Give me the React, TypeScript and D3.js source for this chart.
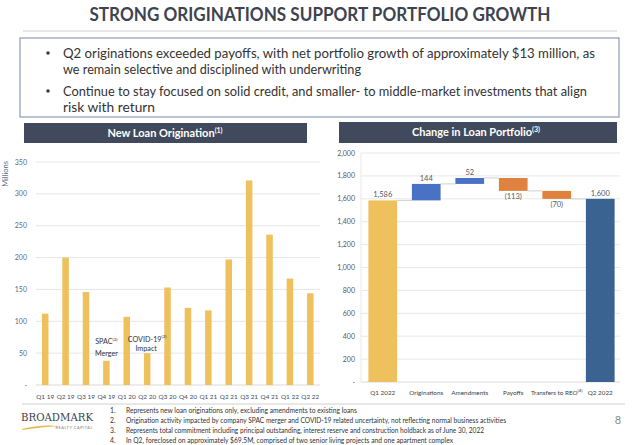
import React from "react";
import * as d3 from "d3";

const quarters = ["Q1 19","Q2 19","Q3 19","Q4 19","Q1 20","Q2 20","Q3 20","Q4 20","Q1 21","Q2 21","Q3 21","Q4 21","Q1 22","Q2 22"];
const originations = [112,200,146,38,107,50,153,121,117,197,321,236,167,144];
const leftTicks = [0,50,100,150,200,250,300,350];

const wfCategories = ["Q1 2022","Originations","Amendments","Payoffs","Transfers to REO","Q2 2022"];
const wfValues = [1586,144,52,-113,-70,1600];
const wfLabels = ["1,586","144","52","(113)","(70)","1,600"];
const wfKinds = ["start","up","up","down","down","end"];
const rightTicks = [0,200,400,600,800,1000,1200,1400,1600,1800,2000];

const bullets = [
  ["Q2 originations exceeded payoffs, with net portfolio growth of approximately $13 million, as","we remain selective and disciplined with underwriting"],
  ["Continue to stay focused on solid credit, and smaller- to middle-market investments that align","risk with return"],
];
const footnotes = [
  "Represents new loan originations only, excluding amendments to existing loans",
  "Origination activity impacted by company SPAC merger and COVID-19 related uncertainty, not reflecting normal business activities",
  "Represents total commitment including principal outstanding, interest reserve and construction holdback as of June 30, 2022",
  "In Q2, foreclosed on approximately $69.5M, comprised of two senior living projects and one apartment complex",
];

const FONT = "Lato, 'Open Sans', sans-serif";
const YELLOW = "#EEC15C";
const colors: Record<string,string> = { start: YELLOW, up: "#4A72C4", down: "#E0823F", end: "#3A6391" };

export default function App() {
  const xL = d3.scaleBand<string>().domain(quarters).range([35, 320.5]).paddingInner(0.68).paddingOuter(0.34);
  const yL = d3.scaleLinear().domain([0, 350]).range([385, 162]);
  const xR = d3.scaleBand<string>().domain(wfCategories).range([361, 622]).paddingInner(0.34).paddingOuter(0.17);
  const yR = d3.scaleLinear().domain([0, 2000]).range([382, 153]);
  const fmt = d3.format(",");

  let running = 0;
  const segs = wfValues.map((v, i) => {
    const kind = wfKinds[i];
    let y0: number, y1: number;
    if (kind === "start" || kind === "end") { y0 = 0; y1 = v; running = v; }
    else { y0 = running; y1 = running + v; running = y1; }
    return { cat: wfCategories[i], v, kind, y0, y1, label: wfLabels[i], level: running };
  });

  const widths = [532, 298, 524, 92];
  const fnWidths = [231, 380, 358, 327];

  return (
    <svg width={640} height={445} style={{ position: "absolute", left: 0, top: 0, background: "#fff" }} fontFamily={FONT}>
      <text x={320} y={21} textAnchor="middle" fontSize={18} fontWeight={700} fill="#3d4450" textLength={461} lengthAdjust="spacingAndGlyphs">STRONG ORIGINATIONS SUPPORT PORTFOLIO GROWTH</text>
      <line x1={23} x2={617} y1={31} y2={31} stroke="#d0d0d0" strokeWidth={1} />
      <rect x={20} y={38} width={599} height={79} fill="#fff" stroke="#8a9bb2" strokeWidth={1.2} />
      {bullets.map((b, i) => (
        <g key={i}>
          <circle cx={48} cy={i === 0 ? 53 : 91} r={1.8} fill="#404040" />
          {b.map((line, j) => (
            <text key={j} x={63} y={(i === 0 ? 58 : 96) + j * 16} fontSize={14} fill="#333" textLength={widths[i * 2 + j]} lengthAdjust="spacingAndGlyphs">{line}</text>
          ))}
        </g>
      ))}

      <rect x={24} y={123} width={283} height={20} fill="#414a5c" />
      <text x={165} y={137} textAnchor="middle" fontSize={11} fontWeight={700} fill="#fff">New Loan Origination<tspan fontSize={7} dy={-4}>(1)</tspan></text>

      <text transform="translate(8,174) rotate(-90)" textAnchor="middle" fontSize={7.5} fill="#5a6a85">Millions</text>
      {leftTicks.map(t => (
        <g key={t}>
          {t > 0 && <line x1={36} x2={320} y1={yL(t)} y2={yL(t)} stroke="#e6e6e6" strokeWidth={1} />}
          <text x={27} y={yL(t) + 2.5} textAnchor="end" fontSize={7} fill="#5a6a85">{t === 0 ? "-" : t}</text>
        </g>
      ))}
      <line x1={36} x2={320} y1={yL(0)} y2={yL(0)} stroke="#d9d9d9" strokeWidth={1} />
      {quarters.map((q, i) => (
        <rect key={q} x={xL(q)} y={yL(originations[i])} width={xL.bandwidth()} height={yL(0) - yL(originations[i])} fill={YELLOW} />
      ))}
      {quarters.map(q => (
        <text key={q} x={(xL(q) as number) + xL.bandwidth() / 2} y={399} textAnchor="middle" fontSize={6.4} fill="#3c4a62">{q}</text>
      ))}
      <text x={(xL("Q4 19") as number) + xL.bandwidth() / 2} y={344} textAnchor="middle" fontSize={7.2} fill="#333">SPAC<tspan fontSize={4.5} dy={-3}>(2)</tspan></text>
      <text x={(xL("Q4 19") as number) + xL.bandwidth() / 2} y={356} textAnchor="middle" fontSize={7.2} fill="#333">Merger</text>
      <text x={(xL("Q2 20") as number) + xL.bandwidth() / 2} y={342} textAnchor="middle" fontSize={7.2} fill="#333">COVID-19<tspan fontSize={4.5} dy={-4}>(2)</tspan></text>
      <text x={(xL("Q2 20") as number) + xL.bandwidth() / 2 - 1} y={351} textAnchor="middle" fontSize={7.2} fill="#333">Impact</text>

      <rect x={339} y={122} width={278} height={21} fill="#414a5c" />
      <text x={476} y={136} textAnchor="middle" fontSize={11} fontWeight={700} fill="#fff">Change in Loan Portfolio<tspan fontSize={7} dy={-4}>(3)</tspan></text>

      {rightTicks.map(t => (
        <g key={t}>
          <line x1={361} x2={620} y1={yR(t)} y2={yR(t)} stroke={t === 0 ? "#d9d9d9" : "#e8e8e8"} strokeWidth={1} />
          <text x={355} y={yR(t) + 2.5} textAnchor="end" fontSize={7} fill="#595959">{t === 0 ? "-" : fmt(t)}</text>
        </g>
      ))}
      <line x1={361} x2={361} y1={153} y2={382} stroke="#e8e8e8" strokeWidth={1} />
      {segs.map((s, i) => {
        const x = xR(s.cat) as number;
        const top = yR(Math.max(s.y0, s.y1));
        const bot = yR(Math.min(s.y0, s.y1));
        const next = i < segs.length - 1 ? segs[i + 1] : null;
        return (
          <g key={s.cat}>
            <rect x={x} y={top} width={xR.bandwidth()} height={bot - top} fill={colors[s.kind]} />
            {next && (
              <line x1={x + xR.bandwidth()} x2={xR(next.cat) as number} y1={yR(s.level)} y2={yR(s.level)} stroke="#d0d0d0" strokeWidth={1} />
            )}
            <text x={x + xR.bandwidth() / 2} y={s.v >= 0 ? top - 3 : bot + 8} textAnchor="middle" fontSize={7.5} fill="#595959">{s.label}</text>
          </g>
        );
      })}
      {wfCategories.map(c => (
        <text key={c} x={(xR(c) as number) + xR.bandwidth() / 2} y={395} textAnchor="middle" fontSize={6.3} fill="#404040">
          {c}{c === "Transfers to REO" ? <tspan fontSize={4.5} dy={-3}>(4)</tspan> : null}
        </text>
      ))}

      <line x1={22} x2={625} y1={404} y2={404} stroke="#d0d0d0" strokeWidth={1} />
      <text x={21} y={421} fontFamily="'DejaVu Serif', 'Liberation Serif', serif" fontSize={11} fill="#3d4450" textLength={72} lengthAdjust="spacingAndGlyphs">BROADMARK</text>
      <text x={93} y={429} textAnchor="end" fontSize={3.8} fill="#777" letterSpacing={0.6}>REALTY CAPITAL</text>
      <path d="M22,429 Q40,424 60,426 Q40,427 22,430 Z" fill="#E6B84A" />
      {footnotes.map((f, i) => (
        <g key={i}>
          <text x={110} y={413 + i * 10} fontSize={6.8} fill="#333">{i + 1}.</text>
          <text x={126} y={413 + i * 10} fontSize={6.8} fill="#333" textLength={fnWidths[i]} lengthAdjust="spacingAndGlyphs">{f}</text>
        </g>
      ))}
      <text x={618} y={424} textAnchor="middle" fontSize={11} fill="#888">8</text>
    </svg>
  );
}
